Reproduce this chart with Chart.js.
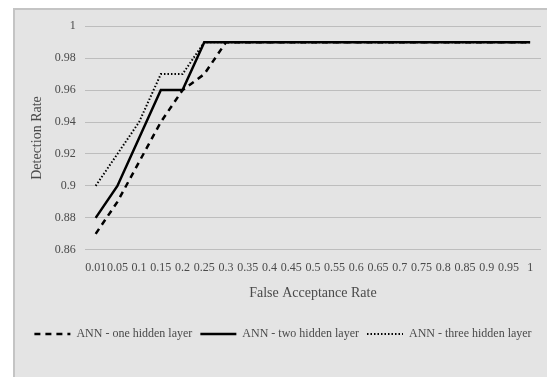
<!DOCTYPE html>
<html>
<head>
<meta charset="utf-8">
<script src="https://cdn.jsdelivr.net/npm/chart.js@4"></script>
<style>
  html, body { margin: 0; padding: 0; background: #fff; }
  #frame {
    position: absolute; left: 13px; top: 8px; width: 534px; height: 369px;
    background: #e4e4e4; border-left: 2px solid #c4c4c4; border-top: 2px solid #c4c4c4;
    box-sizing: border-box;
  }
  #chart { display: block; }
</style>
</head>
<body>
<div id="frame"><canvas id="chart" width="532" height="367"></canvas></div>
<script>
// 数据
const farLabels = ['0.01', '0.05', '0.1', '0.15', '0.2', '0.25', '0.3', '0.35', '0.4', '0.45', '0.5',
  '0.55', '0.6', '0.65', '0.7', '0.75', '0.8', '0.85', '0.9', '0.95', '1'];
const oneHidden = [0.87, 0.89, 0.915, 0.94, 0.96, 0.97, 0.99, 0.99, 0.99, 0.99, 0.99,
  0.99, 0.99, 0.99, 0.99, 0.99, 0.99, 0.99, 0.99, 0.99, 0.99];
const twoHidden = [0.88, 0.90, 0.93, 0.96, 0.96, 0.99, 0.99, 0.99, 0.99, 0.99, 0.99,
  0.99, 0.99, 0.99, 0.99, 0.99, 0.99, 0.99, 0.99, 0.99, 0.99];
const threeHidden = [0.90, 0.92, 0.94, 0.97, 0.97, 0.99, 0.99, 0.99, 0.99, 0.99, 0.99,
  0.99, 0.99, 0.99, 0.99, 0.99, 0.99, 0.99, 0.99, 0.99, 0.99];

const font = 'Liberation Serif';
const textColor = '#4a4a4a';

// 图例带上虚线样式
function legendLabels(chart) {
  return Chart.defaults.plugins.legend.labels.generateLabels(chart).map((item, i) => {
    const ds = chart.data.datasets[i];
    return { ...item, lineDash: ds.borderDash || [], lineWidth: ds.borderWidth, strokeStyle: ds.borderColor };
  });
}

new Chart(document.getElementById('chart'), {
  type: 'line',
  data: {
    labels: farLabels,
    datasets: [
      { label: 'ANN - one hidden layer', data: oneHidden, borderColor: '#000', borderWidth: 2.5, borderDash: [6, 5], pointRadius: 0, tension: 0 },
      { label: 'ANN - two hidden layer', data: twoHidden, borderColor: '#000', borderWidth: 2.5, pointRadius: 0, tension: 0 },
      { label: 'ANN - three hidden layer', data: threeHidden, borderColor: '#000', borderWidth: 2, borderDash: [1.5, 2], pointRadius: 0, tension: 0 }
    ]
  },
  options: {
    responsive: false,
    animation: false,
    layout: { padding: { left: 10, right: 6, top: 1, bottom: 27 } },
    plugins: {
      legend: {
        position: 'bottom',
        labels: {
          usePointStyle: true,
          pointStyle: 'line',
          pointStyleWidth: 36,
          boxWidth: 36,
          boxHeight: 6,
          padding: 8,
          color: textColor,
          font: { family: font, size: 12 },
          generateLabels: legendLabels
        }
      },
      tooltip: { enabled: false }
    },
    scales: {
      x: {
        offset: true,
        grid: { display: false },
        border: { display: false },
        ticks: { autoSkip: false, maxRotation: 0, color: textColor, padding: 3, font: { family: font, size: 12 } },
        title: { display: true, text: 'False Acceptance Rate', color: textColor, font: { family: font, size: 14 }, padding: { top: 7, bottom: 18 } }
      },
      y: {
        min: 0.86,
        max: 1,
        grid: { color: '#bdbdbd', lineWidth: 1, drawTicks: false },
        border: { display: false },
        ticks: {
          stepSize: 0.02,
          padding: 9,
          color: textColor,
          font: { family: font, size: 12 },
          callback: v => String(Number(v.toFixed(2)))
        },
        title: { display: true, text: 'Detection Rate', color: textColor, font: { family: font, size: 14 }, padding: { bottom: 0 } }
      }
    }
  }
});
</script>
</body>
</html>
